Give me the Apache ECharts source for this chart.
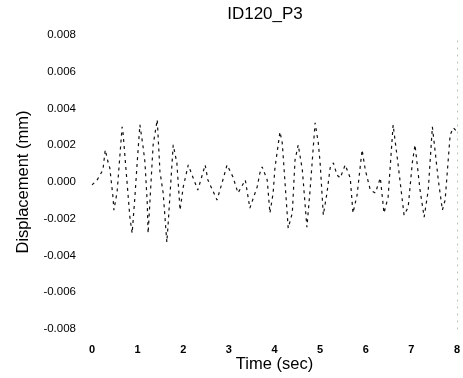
<!DOCTYPE html>
<html>
<head>
<meta charset="utf-8">
<script src="https://cdn.jsdelivr.net/npm/echarts@6/dist/echarts.min.js"></script>
<style>
html,body{margin:0;padding:0;background:#fff;}
#chart{width:463px;height:378px;}
</style>
</head>
<body>
<div id="chart"></div>
<script>
var chartTitle = 'ID120_P3';
var xAxisTitle = 'Time (sec)';
var yAxisTitle = 'Displacement (mm)';
var timeValues = [0,0.11,0.24,0.29,0.35,0.39,0.46,0.48,0.55,0.66,0.68,0.83,0.88,0.94,0.99,1.05,1.12,1.16,1.21,1.23,1.34,1.43,1.49,1.56,1.64,1.67,1.78,1.86,1.93,2.0,2.11,2.21,2.32,2.48,2.54,2.74,2.85,2.96,3.09,3.2,3.36,3.46,3.62,3.68,3.73,3.84,3.90,3.97,4.01,4.12,4.17,4.30,4.39,4.45,4.52,4.61,4.71,4.78,4.89,4.96,5.00,5.07,5.15,5.22,5.29,5.37,5.44,5.55,5.66,5.72,5.81,5.92,5.99,6.10,6.21,6.32,6.40,6.49,6.60,6.71,6.84,6.93,7.02,7.08,7.19,7.28,7.37,7.46,7.50,7.59,7.68,7.74,7.85,7.92,8.0];
var displacementValues = [-0.00016,0.0001,0.00066,0.00175,0.0011,0.00077,-0.00082,-0.00153,-0.00055,0.0030,0.00268,-0.00191,-0.00279,-0.00082,0.00104,0.00311,0.00191,0.00109,-0.00109,-0.00279,0.00202,0.00339,0.00055,-0.0006,-0.00328,-0.00224,0.00202,0.00104,-0.00153,-0.00027,0.00093,0.00027,-0.00044,0.00093,0.00011,-0.00098,-0.00005,0.00093,0.00027,-0.0006,0.00011,-0.00142,-0.00027,0.00049,0.00082,0.00011,-0.00169,-0.0006,0.00077,0.00273,0.00213,-0.00251,-0.00169,0.0012,0.00202,0.00066,-0.00246,-0.00044,0.00322,0.00213,0.00104,-0.0018,-0.0006,0.00077,0.00104,0.00038,0.00022,0.00093,0.00022,-0.00169,-0.00071,0.00175,0.00066,-0.00044,-0.0006,0.00022,-0.00169,-0.00082,0.00311,0.00093,-0.0018,-0.00137,0.00104,0.00202,-0.00044,-0.00191,-0.00044,0.003,0.00213,0.00011,-0.00153,-0.00098,0.00257,0.00295,0.00273];
var xTicks = [0,1,2,3,4,5,6,7,8];
var yTicks = [-0.008,-0.006,-0.004,-0.002,0,0.002,0.004,0.006,0.008];

var seriesData = timeValues.map(function(t,i){return [t, displacementValues[i]];});
var chart = echarts.init(document.getElementById('chart'), null, {renderer:'canvas'});
var font = 'Liberation Sans, Arial, sans-serif';
chart.setOption({
  animation:false,
  backgroundColor:'#fff',
  title:{text:chartTitle,left:260,top:1,textAlign:'center',
    textStyle:{fontFamily:font,fontSize:17,fontWeight:'normal',color:'#000'}},
  grid:{left:92,right:6,top:35,bottom:49,containLabel:false,outerBoundsMode:'none'},
  xAxis:{type:'value',min:xTicks[0],max:xTicks[xTicks.length-1],interval:1,
    name:xAxisTitle,nameLocation:'middle',nameGap:27,nameMoveOverlap:false,
    nameTextStyle:{fontFamily:font,fontSize:16.5,color:'#000'},
    axisLine:{show:false},axisTick:{show:false},splitLine:{show:false},
    axisLabel:{margin:15,fontFamily:font,fontSize:11,fontWeight:'bold',color:'#000'}},
  yAxis:[{type:'value',min:yTicks[0],max:yTicks[yTicks.length-1],interval:0.002,
    name:yAxisTitle,nameLocation:'middle',nameGap:60,nameMoveOverlap:false,
    nameTextStyle:{fontFamily:font,fontSize:16.5,color:'#000'},
    axisLine:{show:false},axisTick:{show:false},splitLine:{show:false},
    axisLabel:{margin:16,fontFamily:font,fontSize:11.5,color:'#000',
      formatter:function(v){return v.toFixed(3);}}},
    {type:'value',position:'right',min:yTicks[0],max:yTicks[yTicks.length-1],interval:0.002,
    axisLine:{show:true,lineStyle:{color:'#bbb',type:[1,6],width:1}},axisTick:{show:false},
    splitLine:{show:false},axisLabel:{show:false}}],
  series:[{type:'line',data:seriesData,showSymbol:false,smooth:false,
    lineStyle:{color:'#111',width:1.2,type:[3,4]}}]
});
</script>
</body>
</html>
